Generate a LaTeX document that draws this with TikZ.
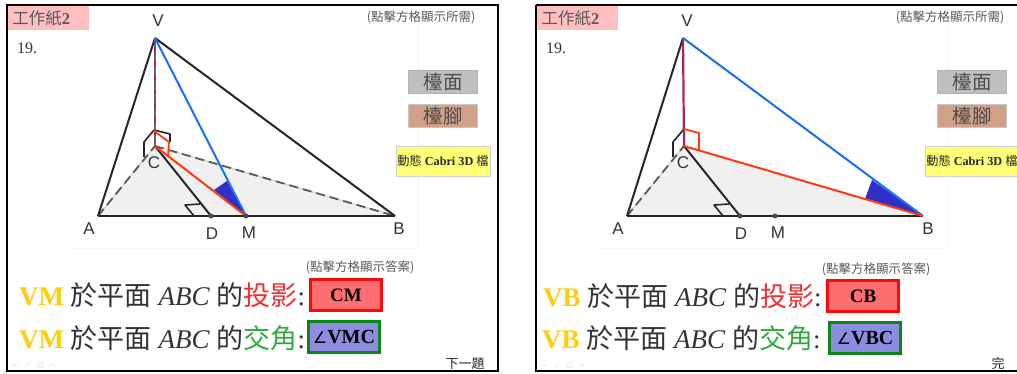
\documentclass[tikz,border=0pt]{standalone}
\usepackage{fontspec}
\setmainfont{Liberation Serif}
\setsansfont{Liberation Sans}
\newfontfamily\cjk{Noto Sans CJK TC}
\newfontfamily\symb{DejaVu Sans}
\newcommand{\pttext}[1]{{\cjk #1}}
\definecolor{goldv}{HTML}{FFCC11}
\definecolor{redt}{HTML}{F03030}
\definecolor{greent}{HTML}{30A840}
\definecolor{bluel}{HTML}{1A6EF0}
\definecolor{redl}{HTML}{FF3A10}
\definecolor{purpl}{HTML}{A8285E}
\definecolor{angf}{HTML}{3030C8}
\tikzset{
 x=1pt,y=-1pt,
 frameline/.style={draw=black,line width=2.4pt},
 faint/.style={draw=black!4,line width=0.8pt},
 planefill/.style={fill=black!6,draw=none},
 edge/.style={draw=black!85,line width=2pt},
 hiddenbase/.style={draw=black!15,line width=1.6pt},
 hidden/.style={draw=black!65,line width=1.8pt,dash pattern=on 9pt off 5pt},
 bluee/.style={draw=bluel,line width=2pt},
 rede/.style={draw=redl,line width=2pt},
 vert/.style={draw=purpl,line width=2.2pt},
 markb/.style={draw=black!85,line width=1.6pt,line join=round},
 markr/.style={draw=redl,line width=1.8pt,line join=round},
 ptlabel/.style={font=\sffamily\fontsize{17}{17}\selectfont,text=black!80,inner sep=0pt},
 ptdot/.style={circle,fill=black!70,inner sep=0pt,minimum size=5pt},
 tabbox/.style={fill=red!25,inner sep=0pt,minimum width=81pt,minimum height=24pt,text=black!65,font=\fontsize{16.5}{16.5}\selectfont},
 numlabel/.style={font=\fontsize{16}{16}\selectfont,text=black!80,inner sep=0pt},
 hint/.style={font=\fontsize{12.5}{12.5}\selectfont,text=black!65,inner sep=0pt},
 btngray/.style={draw=black!30,line width=0.8pt,fill=black!25,minimum width=69pt,minimum height=23pt,inner sep=0pt,text=black!70,font=\fontsize{19.5}{19.5}\selectfont},
 btnbrown/.style={draw=black!22,line width=0.8pt,fill={rgb,255:red,208;green,160;blue,136},minimum width=69pt,minimum height=23pt,inner sep=0pt,text=black!70,font=\fontsize{19.5}{19.5}\selectfont},
 btnyellow/.style={draw=black!18,line width=0.8pt,fill={rgb,255:red,255;green,255;blue,120},minimum width=94pt,minimum height=30pt,inner sep=0pt,text=black!85,font=\fontsize{12.2}{12.2}\selectfont},
 sentence/.style={anchor=west,inner sep=0pt,font=\fontsize{27}{27}\selectfont,text=black!80},
 ansred/.style={draw={rgb,255:red,250;green,10;blue,10},line width=2.2pt,fill={rgb,255:red,255;green,110;blue,110},minimum width=71pt,minimum height=31pt,inner sep=0pt,font=\fontsize{19}{19}\selectfont\bfseries},
 ansblue/.style={draw={rgb,255:red,10;green,135;blue,20},line width=2.2pt,fill={rgb,255:red,140;green,140;blue,225},minimum width=71pt,minimum height=31pt,inner sep=0pt,font=\fontsize{20}{20}\selectfont\bfseries},
 nextlabel/.style={font=\fontsize{13}{13}\selectfont,text=black!85,inner sep=0pt},
 toolicon/.style={draw=black!8,line width=1pt}
}
\begin{document}
\begin{tikzpicture}
\useasboundingbox (0,0) rectangle (1017,374);
\fill[white] (0,0) rectangle (1017,374);

%% left panel
\draw[frameline] (7,5) rectangle (498,371);
\node[tabbox,text width=81pt,align=left] (ltab) at (48,18) {\hspace*{5pt}\pttext{工作紙}\textbf{2}};
\node[numlabel] (lnum) at (27,48) {19.};
\draw[faint] (72,248) -- (418,248) -- (418,25);
\coordinate (lV) at (155,38);
\coordinate (lA) at (98,216);
\coordinate (lB) at (395,216);
\coordinate (lC) at (155,146);
\coordinate (lD) at (211,216);
\coordinate (lM) at (246,216);
\coordinate (lT) at (154,131);
\fill[planefill] (lA) -- (lC) -- (lB) -- cycle;
\draw[hiddenbase] (lA) -- (lC);
\draw[hiddenbase] (lC) -- (lB);
\draw[hidden] (lA) -- (lC);
\draw[hidden] (lC) -- (lB);
\draw[edge] (lV) -- (lA);
\draw[edge] (lV) -- (lB);
\draw[edge] (lA) -- (lB);
\draw[edge] (lC) -- (lD);
\draw[markb] (194,216) -- (185,205) -- (200,204);
\draw[markb] (144,157) -- (144,142) -- (154,130) -- (170,134) -- (170,142);
\fill[angf] (lM) -- (214,190) -- (227,181) -- cycle;
\draw[vert] (lV) -- (lC);
\draw[hidden,draw=black!60] (lV) -- (lC);
\draw[bluee] (lV) -- (lM);
\draw[rede] (lC) -- (lM);
\draw[markr] (lT) -- (169,142) -- (168,157);
\node[ptdot] (lDd) at (lD) {};
\node[ptdot] (lMd) at (lM) {};
\node[ptlabel] (lVl) at (158,21) {V};
\node[ptlabel] (lAl) at (89,229) {A};
\node[ptlabel] (lBl) at (399,229) {B};
\node[ptlabel] (lCl) at (154,163) {C};
\node[ptlabel] (lDl) at (212,234) {D};
\node[ptlabel] (lMl) at (249,233) {M};
\node[hint] (lh1) at (421,17.5) {\pttext{(點擊方格顯示所需)}};
\node[btngray] (lb1) at (443,82) {\pttext{檯面}};
\node[btnbrown] (lb2) at (443,116) {\pttext{檯腳}};
\node[btnyellow] (lb3) at (443,161) {\pttext{動態} \textbf{Cabri 3D} \pttext{檔}};
\node[hint] (lh2) at (360,267.5) {\pttext{(點擊方格顯示答案)}};
\node[sentence] (ls1) at (19,295) {\textcolor{goldv}{\textbf{VM}} \pttext{於平面} \textit{ABC} \pttext{的}\textcolor{redt}{\pttext{投影}}:};
\node[ansred] (la1) at (346,295) {CM};
\node[sentence] (ls2) at (19,338) {\textcolor{goldv}{\textbf{VM}} \pttext{於平面} \textit{ABC} \pttext{的}\textcolor{greent}{\pttext{交角}}:};
\node[ansblue] (la2) at (344,337) {{\symb\mdseries\fontsize{16}{16}\selectfont ∠}VMC};
\node[nextlabel] (ln) at (465,364) {\pttext{下一題}};
\draw[toolicon] (12,365) -- (18,365) (25,367) -- (30,363) (38,363) rectangle (43,367) (50,365) -- (55,365);

%% right panel
\draw[frameline] (536,5) -- (1017,5);
\draw[frameline] (536,5) -- (536,371) -- (1017,371);
\node[tabbox,text width=81pt,align=left] (rtab) at (577,18) {\hspace*{5pt}\pttext{工作紙}\textbf{2}};
\node[numlabel] (rnum) at (556,48) {19.};
\draw[faint] (601,248) -- (947,248) -- (947,25);
\coordinate (rV) at (683,38);
\coordinate (rA) at (627,216);
\coordinate (rB) at (923,216);
\coordinate (rC) at (684,146);
\coordinate (rD) at (740,216);
\coordinate (rM) at (775,216);
\coordinate (rT) at (684,129);
\fill[planefill] (rA) -- (rC) -- (rB) -- cycle;
\draw[hiddenbase] (rA) -- (rC);
\draw[hidden] (rA) -- (rC);
\draw[edge] (rV) -- (rA);
\draw[edge] (rA) -- (rB);
\draw[edge] (rC) -- (rD);
\draw[markb] (723,216) -- (714,205) -- (729,204);
\draw[markb] (673,157) -- (673,142) -- (684,129);
\fill[angf] (rB) -- (865,199) -- (872,180) -- cycle;
\draw[vert] (rV) -- (rC);
\draw[bluee] (rV) -- (rB);
\draw[rede] (rC) -- (rB);
\draw[markr] (rT) -- (699,133) -- (699,150);
\node[ptdot] (rDd) at (rD) {};
\node[ptdot] (rMd) at (rM) {};
\node[ptlabel] (rVl) at (687,21) {V};
\node[ptlabel] (rAl) at (618,229) {A};
\node[ptlabel] (rBl) at (928,229) {B};
\node[ptlabel] (rCl) at (683,163) {C};
\node[ptlabel] (rDl) at (741,234) {D};
\node[ptlabel] (rMl) at (778,233) {M};
\node[hint] (rh1) at (950,17.5) {\pttext{(點擊方格顯示所需)}};
\node[btngray] (rb1) at (972,82) {\pttext{檯面}};
\node[btnbrown] (rb2) at (972,116) {\pttext{檯腳}};
\node[btnyellow,anchor=west] (rb3) at (924.5,161) {\pttext{動態} \textbf{Cabri 3D} \pttext{檔}};
\node[hint] (rh2) at (876,269.5) {\pttext{(點擊方格顯示答案)}};
\node[sentence] (rs1) at (543,296) {\textcolor{goldv}{\textbf{VB}} \pttext{於平面} \textit{ABC} \pttext{的}\textcolor{redt}{\pttext{投影}}:};
\node[ansred] (ra1) at (863,296) {CB};
\node[sentence] (rs2) at (542,338) {\textcolor{goldv}{\textbf{VB}} \pttext{於平面} \textit{ABC} \pttext{的}\textcolor{greent}{\pttext{交角}}:};
\node[ansblue] (ra2) at (865,338) {{\symb\mdseries\fontsize{16}{16}\selectfont ∠}VBC};
\node[nextlabel] (rn) at (998,364) {\pttext{完}};
\draw[toolicon] (541,365) -- (547,365) (554,367) -- (559,363) (567,363) rectangle (572,367) (579,365) -- (584,365);
\end{tikzpicture}
\end{document}
